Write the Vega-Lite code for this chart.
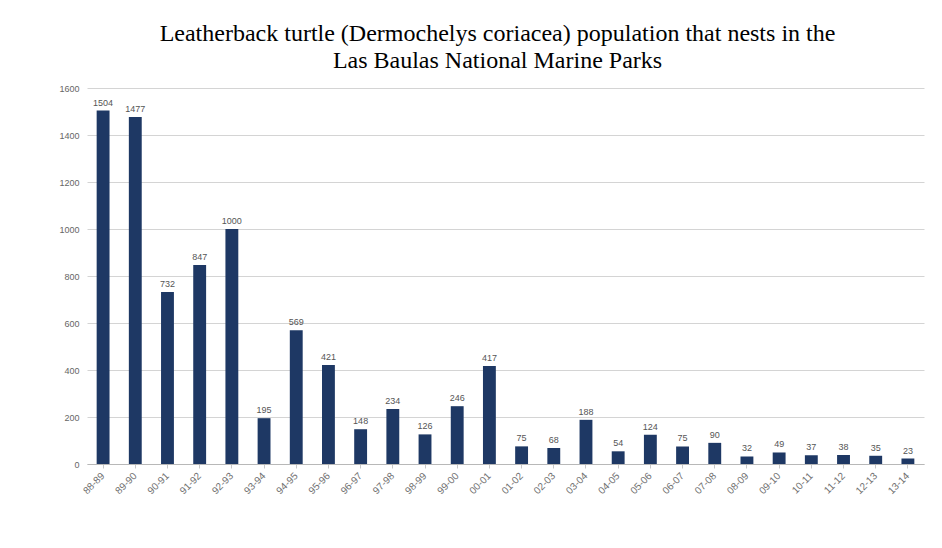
{
  "$schema": "https://vega.github.io/schema/vega-lite/v6.json",
  "width": 837,
  "height": 376,
  "autosize": {"type": "none"},
  "padding": {"left": 87, "top": 88, "right": 18, "bottom": 84},
  "background": "white",
  "title": {
    "text": [
      "Leatherback turtle (Dermochelys coriacea) population that nests in the",
      "Las Baulas National Marine Parks"
    ],
    "font": "Liberation Serif",
    "fontSize": 24,
    "fontWeight": "normal",
    "color": "#000000",
    "lineHeight": 27,
    "anchor": "middle",
    "dx": -8,
    "offset": 11
  },
  "data": {
    "values": [
      {"season": "88-89", "nests": 1504},
      {"season": "89-90", "nests": 1477},
      {"season": "90-91", "nests": 732},
      {"season": "91-92", "nests": 847},
      {"season": "92-93", "nests": 1000},
      {"season": "93-94", "nests": 195},
      {"season": "94-95", "nests": 569},
      {"season": "95-96", "nests": 421},
      {"season": "96-97", "nests": 148},
      {"season": "97-98", "nests": 234},
      {"season": "98-99", "nests": 126},
      {"season": "99-00", "nests": 246},
      {"season": "00-01", "nests": 417},
      {"season": "01-02", "nests": 75},
      {"season": "02-03", "nests": 68},
      {"season": "03-04", "nests": 188},
      {"season": "04-05", "nests": 54},
      {"season": "05-06", "nests": 124},
      {"season": "06-07", "nests": 75},
      {"season": "07-08", "nests": 90},
      {"season": "08-09", "nests": 32},
      {"season": "09-10", "nests": 49},
      {"season": "10-11", "nests": 37},
      {"season": "11-12", "nests": 38},
      {"season": "12-13", "nests": 35},
      {"season": "13-14", "nests": 23}
    ]
  },
  "encoding": {
    "x": {
      "field": "season",
      "type": "ordinal",
      "sort": null,
      "title": null,
      "scale": {"paddingInner": 0.6, "paddingOuter": 0.3},
      "axis": {
        "labelAngle": -45,
        "labelAlign": "right",
        "labelBaseline": "middle",
        "labelPadding": 6,
        "labelFont": "Liberation Sans",
        "labelFontSize": 10,
        "labelColor": "#707070",
        "ticks": true,
        "tickColor": "#c8c8c8",
        "tickSize": 4,
        "domainColor": "#b8b8b8",
        "grid": false
      }
    },
    "y": {
      "field": "nests",
      "type": "quantitative",
      "title": null,
      "scale": {"domain": [0, 1600], "nice": false},
      "axis": {
        "values": [0, 200, 400, 600, 800, 1000, 1200, 1400, 1600],
        "format": "d",
        "labelFont": "Liberation Sans",
        "labelFontSize": 9,
        "labelColor": "#666666",
        "labelPadding": 8,
        "ticks": false,
        "domain": false,
        "grid": true,
        "gridColor": "#d4d4d4",
        "gridWidth": 1
      }
    }
  },
  "layer": [
    {
      "mark": {"type": "bar", "color": "#1e3864"}
    },
    {
      "mark": {
        "type": "text",
        "dy": -8,
        "font": "Liberation Sans",
        "fontSize": 9,
        "color": "#555555"
      },
      "encoding": {
        "text": {"field": "nests", "type": "quantitative"}
      }
    }
  ],
  "config": {
    "view": {"stroke": null}
  }
}
